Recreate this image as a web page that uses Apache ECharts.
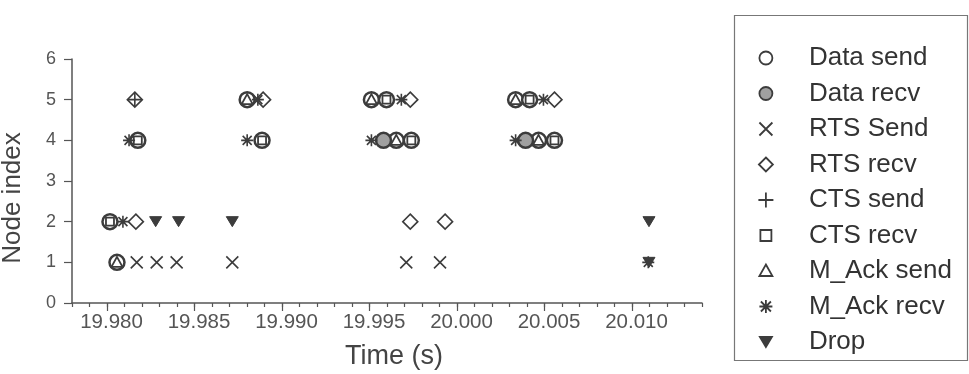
<!DOCTYPE html>
<html>
<head>
<meta charset="utf-8">
<script src="https://cdn.jsdelivr.net/npm/echarts@6/dist/echarts.min.js"></script>
<style>html,body{margin:0;padding:0;background:#fff}#c{width:969px;height:374px}</style>
</head>
<body>
<div id="c"></div>
<script>
// ---- data: [time (s), node index] ----
const dataSend = [[19.98017,2],[19.98057,1],[19.98176,4],[19.98801,5],[19.98886,4],[19.99511,5],[19.99597,5],[19.99653,4],[19.99739,4],[20.00335,5],[20.00415,5],[20.00466,4],[20.00557,4]];
const dataRecv = [[19.99580,4],[20.00392,4]];
const rtsSend  = [[19.98170,1],[19.98284,1],[19.98398,1],[19.98716,1],[19.99710,1],[19.99903,1]];
const rtsRecv  = [[19.98159,5],[19.98165,2],[19.98892,5],[19.99733,5],[19.99733,2],[19.99932,2],[20.00557,5]];
const ctsSend  = [[19.98159,5]];
const ctsRecv  = [[19.98017,2],[19.98176,4],[19.98886,4],[19.99597,5],[19.99739,4],[20.00415,5],[20.00557,4]];
const mAckSend = [[19.98057,1],[19.98801,5],[19.99511,5],[19.99653,4],[20.00335,5],[20.00466,4]];
const mAckRecv = [[19.98126,4],[19.98091,2],[19.98801,4],[19.98862,5],[19.99511,4],[19.99682,5],[20.00335,4],[20.00494,5],[20.01093,1]];
const drop     = [[19.98278,2],[19.98409,2],[19.98716,2],[20.01097,2],[20.01097,1]];

const seriesNames = ['Data send','Data recv','RTS Send','RTS recv','CTS send','CTS recv','M_Ack send','M_Ack recv','Drop'];
const xMin = 19.978, xMax = 20.014;
const majorTicks = [19.980, 19.985, 19.990, 19.995, 20.000, 20.005, 20.010];
const minorTicks = [];
for (let i = 0; i <= 36; i++) minorTicks.push(+(xMin + i * 0.001).toFixed(3));
const yTicks = [0,1,2,3,4,5,6];

const INK = '#3c3c3c';
const SYM = {
  cross: 'path://M0,0M20,20M4,4L16,16M16,4L4,16',
  plus: 'path://M0,0M20,20M10,3L10,17M3,10L17,10',
  star: 'path://M0,0M20,20M10,4L10,16M4,10L16,10M5.5,5.5L14.5,14.5M14.5,5.5L5.5,14.5',
  down: 'path://M0,0M20,20M4,5L16,5L10,15Z',
  tri: 'path://M0,0M20,20M10,4.5L15.5,14.5L4.5,14.5Z',
  sq: 'path://M0,0M20,20M6,6L14,6L14,14L6,14Z',
  dia: 'path://M0,0M20,20M10,2.5L17.5,10L10,17.5L2.5,10Z',
  circ: 'path://M0,0M20,20M3.5,10A6.5,6.5,0,1,1,16.5,10A6.5,6.5,0,1,1,3.5,10Z'
};
// bigger legend glyphs (same shapes, less padding)
const LEG = {
  cross: 'path://M0,0M20,20M3.5,3.5L16.5,16.5M16.5,3.5L3.5,16.5',
  plus: 'path://M0,0M20,20M10,2.5L10,17.5M2.5,10L17.5,10',
  star: 'path://M0,0M20,20M10,3.5L10,16.5M3.5,10L16.5,10M5,5L15,15M15,5L5,15',
  down: 'path://M0,0M20,20M4,5L16,5L10,15Z',
  tri: 'path://M0,0M20,20M10,3.5L16.5,15L3.5,15Z',
  sq: 'path://M0,0M20,20M4.5,4.5L15.5,4.5L15.5,15.5L4.5,15.5Z',
  dia: 'path://M0,0M20,20M10,3L17,10L10,17L3,10Z'
};
const clear = 'rgba(0,0,0,0)';
function mk(name, data, symbol, size, fill, bw, z) {
  return {
    name: name, type: 'scatter', data: data, symbol: symbol, symbolSize: size, z: z,
    itemStyle: { color: fill, borderColor: INK, borderWidth: bw, opacity: 1 },
    emphasis: { disabled: true }, animation: false
  };
}
const series = [
  mk(seriesNames[0], dataSend, 'circle', 15, '#fff', 2.5, 2),
  mk(seriesNames[1], dataRecv, 'circle', 15, '#a0a0a0', 2.5, 2),
  mk(seriesNames[2], rtsSend, SYM.cross, 20, clear, 1.6, 3),
  mk(seriesNames[3], rtsRecv, SYM.dia, 20, clear, 1.6, 3),
  mk(seriesNames[4], ctsSend, SYM.plus, 20, clear, 1.6, 3),
  mk(seriesNames[5], ctsRecv, SYM.sq, 20, clear, 1.8, 3),
  mk(seriesNames[6], mAckSend, SYM.tri, 20, clear, 1.8, 3),
  mk(seriesNames[7], mAckRecv, SYM.star, 20, clear, 1.6, 3),
  mk(seriesNames[8], drop, SYM.down, 20, INK, 1, 3)
];
const legendIcons = [SYM.circ, SYM.circ, LEG.cross, LEG.dia, LEG.plus, LEG.sq, LEG.tri, LEG.star, LEG.down];
const legendData = seriesNames.map((n, i) => ({ name: n, icon: legendIcons[i] }));

const FONT = 'Liberation Sans, Arial, sans-serif';
const chart = echarts.init(document.getElementById('c'), null, { renderer: 'canvas' });
chart.setOption({
  animation: false,
  backgroundColor: '#fff',
  grid: { left: 72, right: 267, top: 59, bottom: 71, containLabel: false, outerBoundsMode: 'none' },
  xAxis: [{
    type: 'value', min: xMin, max: xMax, position: 'bottom',
    name: 'Time (s)', nameLocation: 'middle', nameGap: 40,
    nameTextStyle: { fontSize: 27, color: '#444', fontFamily: FONT, padding: [0, 0, 0, 14] },
    axisLine: { show: true, lineStyle: { color: '#555', width: 1.5 } },
    axisTick: { show: true, customValues: minorTicks, length: 4, lineStyle: { color: '#555', width: 1.2 } },
    axisLabel: { customValues: majorTicks, formatter: v => v.toFixed(3), fontSize: 20.5, color: '#555', margin: 9, fontFamily: FONT, padding: [0, 0, 0, 9] },
    splitLine: { show: false }
  }, {
    type: 'value', min: xMin, max: xMax, position: 'bottom',
    axisLine: { show: false },
    axisTick: { show: true, customValues: majorTicks, length: 8, lineStyle: { color: '#555', width: 1.2 } },
    axisLabel: { show: false },
    splitLine: { show: false }
  }],
  yAxis: {
    type: 'value', min: 0, max: 6, interval: 1,
    name: 'Node index', nameLocation: 'middle', nameGap: 46, nameRotate: 90,
    nameTextStyle: { fontSize: 26, color: '#444', fontFamily: FONT, padding: [0, 34, 0, 0] },
    axisLine: { show: true, lineStyle: { color: '#555', width: 1.5 } },
    axisTick: { show: true, length: 8, lineStyle: { color: '#555', width: 1.2 } },
    axisLabel: { fontSize: 18, color: '#555', margin: 16, fontFamily: FONT, formatter: v => String(yTicks[v]) },
    splitLine: { show: false }
  },
  legend: {
    data: legendData, orient: 'vertical', left: 755, top: 43, padding: 0,
    itemWidth: 20, itemHeight: 30, itemGap: 5.5, selectedMode: false,
    itemStyle: { borderWidth: 1.8 },
    textStyle: { fontSize: 26, color: '#333', fontFamily: FONT, lineHeight: 30, padding: [0, 0, 0, 28] }
  },
  graphic: [{
    type: 'rect', left: 732, top: 13, silent: true,
    shape: { width: 233, height: 345 },
    style: { fill: 'none', stroke: '#777', lineWidth: 1.2 }
  }],
  series: series
});
</script>
</body>
</html>
